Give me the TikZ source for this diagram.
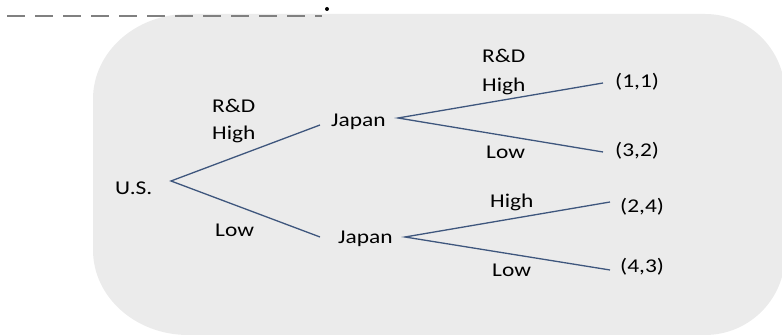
\documentclass[tikz,border=0pt]{standalone}
\usepackage{fontspec}
\usepackage{graphicx}
\setmainfont{Carlito}
\newcommand\wide[1]{\scalebox{1.2}[1]{#1}}
\definecolor{panel}{RGB}{235,235,235}
\definecolor{branch}{RGB}{62,86,125}
\definecolor{dashgray}{RGB}{128,128,128}
\begin{document}
\begin{tikzpicture}[x=1pt,y=1pt,
  lbl/.style={anchor=base west,inner sep=0pt,font=\fontsize{19.5}{22}\selectfont},
  edge/.style={draw=branch,line width=1.3pt}]
\useasboundingbox (0,0) rectangle (782,336);
% shaded panel
\fill[panel] (188,322) -- (705,322)
  arc[start angle=90,end angle=0,x radius=80,y radius=80] -- (785,81)
  arc[start angle=0,end angle=-90,x radius=80,y radius=80] -- (188,1)
  arc[start angle=270,end angle=180,x radius=95,y radius=85] -- (93,237)
  arc[start angle=180,end angle=90,x radius=95,y radius=85] -- cycle;
% dashed rule and dot at the top
\coordinate (ruleA) at (7,320);
\coordinate (ruleB) at (322,320);
\draw[dashgray,line width=2.4pt,dash pattern=on 18pt off 10pt] (ruleA) -- (ruleB);
\fill (327,327) circle (2pt);
% players and payoffs
\node[lbl] (us) at (115,141) {\wide{U.S.}};
\node[lbl] (jA) at (331,209) {\wide{Japan}};
\node[lbl] (jB) at (338,92) {\wide{Japan}};
\node[lbl] (p11) at (615,248) {\wide{(1,1)}};
\node[lbl] (p32) at (615,179) {\wide{(3,2)}};
\node[lbl] (p24) at (620,123) {\wide{(2,4)}};
\node[lbl] (p43) at (620,63) {\wide{(4,3)}};
% action labels
\node[lbl] (rdA) at (212,223) {\wide{R\&D}};
\node[lbl] (hiA) at (212,196) {\wide{High}};
\node[lbl] (loA) at (215,99) {\wide{Low}};
\node[lbl] (rdB) at (482,273) {\wide{R\&D}};
\node[lbl] (hiB) at (482,244) {\wide{High}};
\node[lbl] (loB) at (486,177) {\wide{Low}};
\node[lbl] (hiC) at (490,128) {\wide{High}};
\node[lbl] (loC) at (492,59) {\wide{Low}};
% branch ends next to the labels
\coordinate (usR) at (171,155);
\coordinate (jAL) at (320,211);
\coordinate (jAR) at (398,218);
\coordinate (jBL) at (320,99);
\coordinate (jBR) at (405,99);
\coordinate (p11L) at (603,253);
\coordinate (p32L) at (603,184);
\coordinate (p24L) at (610,134);
\coordinate (p43L) at (610,66);
% branches
\path[edge] (jAL) -- (usR) -- (jBL);
\path[edge] (p11L) -- (jAR) -- (p32L);
\path[edge] (p24L) -- (jBR) -- (p43L);
\end{tikzpicture}
\end{document}
